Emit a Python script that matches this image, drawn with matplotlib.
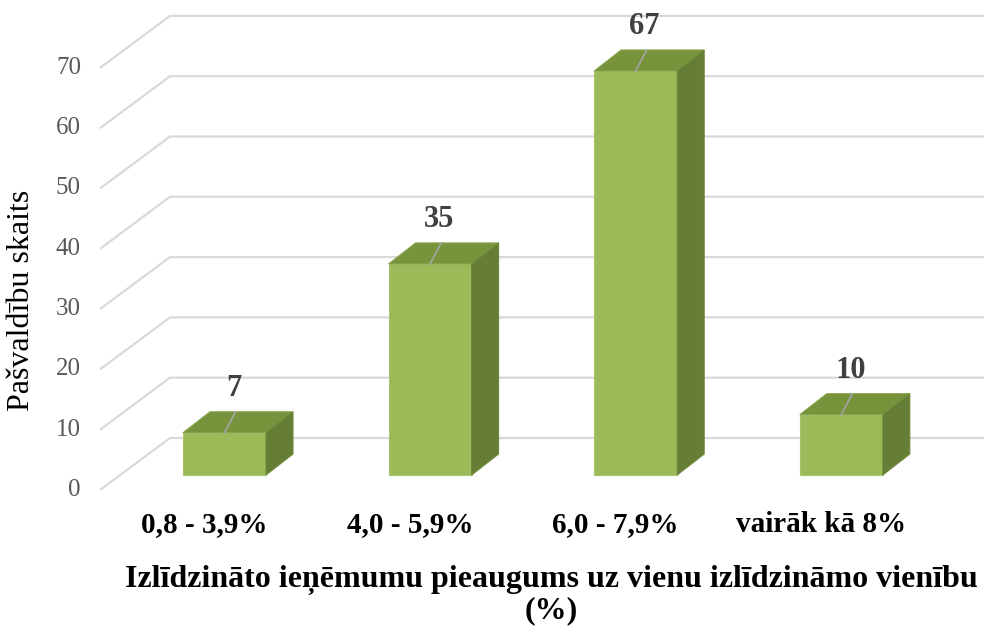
import matplotlib.pyplot as plt
from matplotlib.patches import Polygon

categories = ["0,8 - 3,9%", "4,0 - 5,9%", "6,0 - 7,9%", "vairāk kā 8%"]
values = [7, 35, 67, 10]
y_ticks = [0, 10, 20, 30, 40, 50, 60, 70]
y_title = "Pašvaldību skaits"
x_title = "Izlīdzināto ieņēmumu pieaugums uz vienu izlīdzināmo vienību\n(%)"

plt.rcParams['font.family'] = ['Liberation Serif', 'DejaVu Serif']

W, H = 984, 627
px_cat = 205.6   # pixels per category step
px_val = 6.03    # pixels per value unit
x0_px, y0_px = 224.5, 475   # first bar centre, floor at bar front

fig = plt.figure(figsize=(W / 100, H / 100), dpi=100)
ax = fig.add_axes([0, 0, 1, 1])
ax.set_xlim(-x0_px / px_cat, (W - x0_px) / px_cat)
ax.set_ylim((y0_px - H) / px_val, y0_px / px_val)
ax.axis("off")

# pseudo 3D offsets (data units)
half_w = 41.5 / px_cat
bar_dx, bar_dy = 27 / px_cat, 21 / px_val
front_dx, front_dy = -20.2 / px_cat, -15 / px_val
back_dx, back_dy = 49.8 / px_cat, 37 / px_val
left_front = (100 - x0_px) / px_cat
right_end = ax.get_xlim()[1] + 0.1

# gridlines: diagonal on the side wall, then along the back wall
for v in y_ticks:
    ax.plot([left_front, left_front + back_dx - front_dx, right_end],
            [v + front_dy, v + back_dy, v + back_dy],
            color="#d9d9d9", lw=1.6, zorder=1, solid_capstyle="butt")
    ax.text(left_front - 19 / px_cat, v + front_dy, str(v), ha="right", va="center",
            fontsize=18, color="#595959")

for i, (cat, v) in enumerate(zip(categories, values)):
    l, r = i - half_w, i + half_w
    front = Polygon([(l, 0), (r, 0), (r, v), (l, v)], closed=True,
                    facecolor="#9bbb59", edgecolor="#a9c56c", lw=0.8, zorder=3)
    top = Polygon([(l, v), (r, v), (r + bar_dx, v + bar_dy), (l + bar_dx, v + bar_dy)],
                  closed=True, facecolor="#77933c", edgecolor="#86a248", lw=0.8, zorder=3)
    side = Polygon([(r, 0), (r + bar_dx, bar_dy), (r + bar_dx, v + bar_dy), (r, v)],
                   closed=True, facecolor="#657d35", edgecolor="#6f8a3b", lw=0.8, zorder=3)
    for p in (front, top, side):
        ax.add_patch(p)
    # leader line and value label
    ax.plot([i, i + 11 / px_cat], [v, v + 21 / px_val], color="#a6a6a6", lw=1.2, zorder=4)
    ax.text(i + 9 / px_cat, v + 44 / px_val, str(v), ha="center", va="center",
            fontsize=22, fontweight="bold", color="#404040", zorder=5)
    # category label
    ax.text(i + front_dx, -50 / px_val, cat, ha="center", va="center",
            fontsize=21, fontweight="bold", color="black")

fig.text(22 / W, 1 - 300 / H, y_title, rotation=90, ha="center", va="center",
         fontsize=23, color="black")
fig.text(551 / W, 1 - 595 / H, x_title, ha="center", va="center",
         fontsize=23, fontweight="bold", color="black", linespacing=1.05)

fig.savefig("out.png", dpi=100)
